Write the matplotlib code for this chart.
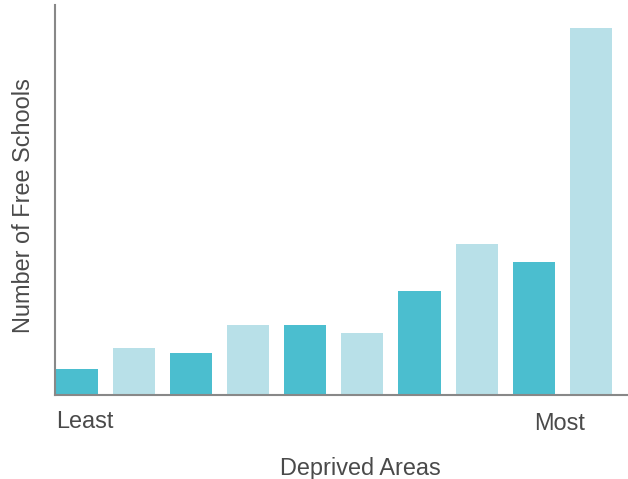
import matplotlib
matplotlib.use("Agg")
import matplotlib.pyplot as plt

deciles = list(range(1, 11))
free_schools = [5, 9, 8, 13.5, 13.5, 12, 20, 29, 25.5, 70.5]
bar_colors = ["#4bbecf", "#b8e0e8"] * 5
x_label = "Deprived Areas"
y_label = "Number of Free Schools"
left_label = "Least"
right_label = "Most"

plt.rcParams["font.family"] = ["Liberation Sans", "DejaVu Sans"]
text_color = "#4a4a4a"
fs = 16.9

fig = plt.figure(figsize=(6.28, 4.79), dpi=100)
ax = fig.add_axes([55 / 628, 1 - 395 / 479, 1 - 55 / 628, (395 - 5) / 479])
ax.bar([d - 1 for d in deciles], free_schools, width=0.735, color=bar_colors)
ax.set_xlim(-0.376, 9.647)
ax.set_ylim(0, 75)
for s in ["top", "right"]:
    ax.spines[s].set_visible(False)
for s in ["left", "bottom"]:
    ax.spines[s].set_color("#888888")
    ax.spines[s].set_linewidth(1.5)
ax.set_xticks([])
ax.set_yticks([])

fig.text(56 / 628, 1 - 421 / 479, left_label, ha="left", va="center", fontsize=fs, color=text_color)
fig.text(585 / 628, 1 - 424 / 479, right_label, ha="right", va="center", fontsize=fs, color=text_color)
fig.text(360 / 628, 1 - 468 / 479, x_label, ha="center", va="center", fontsize=fs, color=text_color)
fig.text(23.5 / 628, 1 - 206 / 479, y_label, ha="center", va="center", rotation=90, fontsize=fs, color=text_color)

fig.savefig("out.png", dpi=100)
